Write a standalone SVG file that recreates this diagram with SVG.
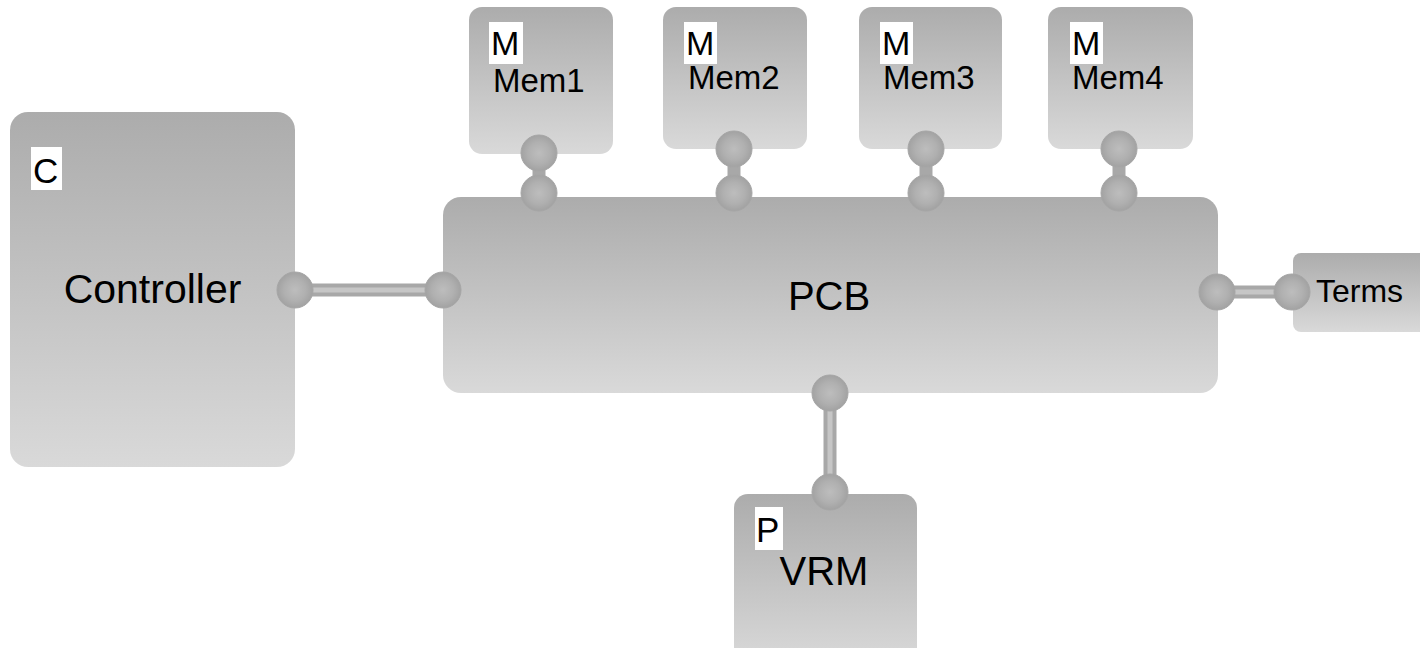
<svg xmlns="http://www.w3.org/2000/svg" width="1420" height="648" viewBox="0 0 1420 648">
  <defs>
    <linearGradient id="boxFill" x1="0" y1="0" x2="0" y2="1">
      <stop offset="0" stop-color="#acacac"/>
      <stop offset="1" stop-color="#d9d9d9"/>
    </linearGradient>
    <radialGradient id="portFill" cx="0.5" cy="0.5" r="0.5">
      <stop offset="0" stop-color="#bdbdbd"/>
      <stop offset="0.6" stop-color="#b0b0b0"/>
      <stop offset="1" stop-color="#a2a2a2"/>
    </radialGradient>
    <style>
      .box { fill: url(#boxFill); }
      .port { fill: url(#portFill); stroke: #a6a6a6; stroke-width: 1; }
      .wire { stroke: #a8a8a8; stroke-width: 13; stroke-linecap: butt; fill: none; }
      .wire-core { stroke: #c6c6c6; stroke-width: 5; fill: none; }
      .tag { fill: #ffffff; }
      .t { font-family: "Liberation Sans", Arial, sans-serif; fill: #000000; }
      .big { font-size: 41px; }
      .mid { font-size: 33px; }
      .kind { font-size: 35px; }
      .kind-m { font-size: 34px; }
    </style>
  </defs>

  <!-- component bodies -->
  <g id="controller">
    <rect class="box" x="10" y="112" width="285" height="355" rx="18"/>
    <rect class="tag" x="31" y="147" width="31" height="43"/>
    <text class="t kind" x="33" y="183">C</text>
    <text class="t big" x="152.5" y="303" text-anchor="middle">Controller</text>
  </g>

  <g id="pcb">
    <rect class="box" x="443" y="197" width="775" height="196" rx="18"/>
    <text class="t big" x="829" y="310" text-anchor="middle" style="font-size:40px">PCB</text>
  </g>

  <g id="mem1">
    <rect class="box" x="469" y="7" width="144" height="147" rx="13"/>
    <rect class="tag" x="489" y="22" width="34" height="42"/>
    <text class="t kind-m" x="491" y="55">M</text>
    <text class="t mid" x="493" y="92">Mem1</text>
  </g>

  <g id="mem2">
    <rect class="box" x="663" y="7" width="144" height="142" rx="13"/>
    <rect class="tag" x="684" y="22" width="33" height="42"/>
    <text class="t kind-m" x="686" y="55">M</text>
    <text class="t mid" x="688" y="89">Mem2</text>
  </g>

  <g id="mem3">
    <rect class="box" x="859" y="7" width="143" height="142" rx="13"/>
    <rect class="tag" x="880" y="22" width="33" height="42"/>
    <text class="t kind-m" x="882" y="55">M</text>
    <text class="t mid" x="883" y="89">Mem3</text>
  </g>

  <g id="mem4">
    <rect class="box" x="1048" y="7" width="145" height="142" rx="13"/>
    <rect class="tag" x="1070" y="22" width="33" height="42"/>
    <text class="t kind-m" x="1072" y="55">M</text>
    <text class="t mid" x="1072" y="89">Mem4</text>
  </g>

  <g id="terms">
    <rect class="box" x="1293" y="253" width="140" height="79" rx="8"/>
    <text class="t mid" x="1316" y="302" style="font-size:32px">Terms</text>
  </g>

  <g id="vrm">
    <rect class="box" x="734" y="494" width="183" height="170" rx="14"/>
    <rect class="tag" x="755" y="507" width="28" height="43"/>
    <text class="t kind" x="756" y="542">P</text>
    <text class="t big" x="824" y="585" text-anchor="middle" style="font-size:40px">VRM</text>
  </g>

  <!-- connectors and their ports -->
  <g id="connectors">
    <line class="wire" x1="295" y1="290" x2="443" y2="290"/>
    <line class="wire-core" x1="295" y1="290" x2="443" y2="290"/>
    <circle class="port" cx="295" cy="290" r="18"/>
    <circle class="port" cx="443" cy="290" r="18"/>

    <line class="wire" x1="1217" y1="292" x2="1292" y2="292"/>
    <line class="wire-core" x1="1217" y1="292" x2="1292" y2="292"/>
    <circle class="port" cx="1217" cy="292" r="18"/>
    <circle class="port" cx="1292" cy="292" r="18"/>

    <line class="wire" x1="830" y1="393" x2="830" y2="492"/>
    <line class="wire-core" x1="830" y1="393" x2="830" y2="492"/>
    <circle class="port" cx="830" cy="393" r="18"/>
    <circle class="port" cx="830" cy="492" r="18"/>

    <line class="wire" x1="539" y1="153" x2="539" y2="193"/>
    <circle class="port" cx="539" cy="153" r="18"/>
    <circle class="port" cx="539" cy="193" r="18"/>

    <line class="wire" x1="734" y1="149" x2="734" y2="193"/>
    <circle class="port" cx="734" cy="149" r="18"/>
    <circle class="port" cx="734" cy="193" r="18"/>

    <line class="wire" x1="926" y1="149" x2="926" y2="193"/>
    <circle class="port" cx="926" cy="149" r="18"/>
    <circle class="port" cx="926" cy="193" r="18"/>

    <line class="wire" x1="1119" y1="149" x2="1119" y2="193"/>
    <circle class="port" cx="1119" cy="149" r="18"/>
    <circle class="port" cx="1119" cy="193" r="18"/>
  </g>
</svg>
